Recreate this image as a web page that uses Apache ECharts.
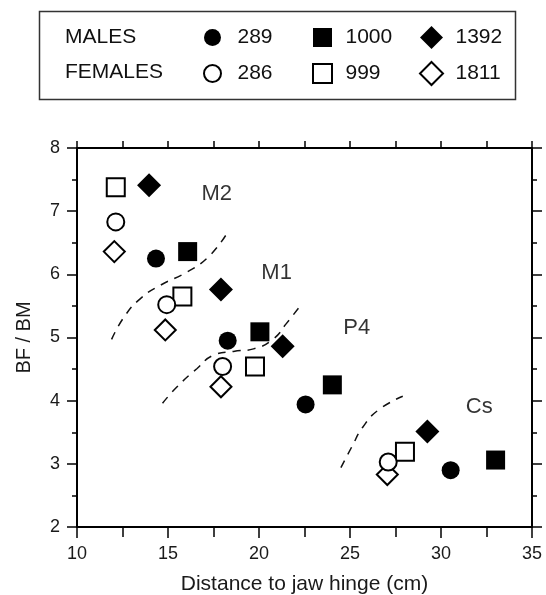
<!DOCTYPE html>
<html>
<head>
<meta charset="utf-8">
<script src="https://cdn.jsdelivr.net/npm/echarts@6/dist/echarts.min.js"></script>
<style>
  html, body { margin: 0; padding: 0; background: #fff; }
  #chart { width: 546px; height: 595px; }
</style>
</head>
<body>
<div id="chart"></div>
<script>
// 每个样本的四个牙位 (M2, M1, P4, Cs)：[距离, BF/BM]
var male289 = [[14.34, 6.25], [18.28, 4.95], [22.56, 3.94], [30.53, 2.90]];
var female286 = [[12.13, 6.83], [14.93, 5.52], [18.0, 4.54], [27.1, 3.03]];
var male1000 = [[16.08, 6.36], [20.05, 5.09], [24.03, 4.25], [33.0, 3.06]];
var female999 = [[12.13, 7.38], [15.79, 5.65], [19.78, 4.54], [28.02, 3.19]];
var male1392 = [[13.96, 7.41], [17.91, 5.76], [21.3, 4.86], [29.25, 3.51]];
var female1811 = [[12.05, 6.36], [14.85, 5.12], [17.91, 4.22], [27.05, 2.83]];

// 虚线分界
var curveM2M1 = [[11.9, 4.97], [12.6, 5.33], [13.5, 5.62], [14.6, 5.83], [16.0, 6.03], [17.2, 6.27], [18.2, 6.63]];
var curveM1P4 = [[14.7, 3.96], [15.5, 4.22], [16.6, 4.51], [17.5, 4.72], [18.6, 4.78], [19.7, 4.82], [20.8, 4.98], [21.5, 5.22], [22.4, 5.55]];
var curveP4Cs = [[24.5, 2.94], [25.1, 3.27], [25.7, 3.58], [26.55, 3.85], [27.9, 4.07]];

// 牙位标注
var toothLabels = [[17.68, 7.28, 'M2'], [20.97, 6.02, 'M1'], [25.37, 5.15, 'P4'], [32.1, 3.90, 'Cs']];

var font = "'Liberation Sans', Arial, sans-serif";
var myChart = echarts.init(document.getElementById('chart'));

function xAxisCfg(pos) {
    var bottom = pos === 'bottom';
    return {
        type: 'value', position: pos, min: 10, max: 35, interval: 5,
        axisLine: { show: true, onZero: false, lineStyle: { color: '#000', width: 2 } },
        axisTick: { show: true, inside: false, length: bottom ? 11 : 7, lineStyle: { color: '#000', width: 1.5 } },
        minorTick: { show: true, splitNumber: 2, length: bottom ? 10 : 7, lineStyle: { color: '#000', width: 1.5 } },
        splitLine: { show: false },
        axisLabel: { show: bottom, fontSize: 18, color: '#1a1a1a', margin: 18, fontFamily: font },
        name: bottom ? 'Distance to jaw hinge (cm)' : '',
        nameLocation: 'middle', nameGap: 47,
        nameTextStyle: { fontSize: 21, color: '#1a1a1a', fontFamily: font }
    };
}

function yAxisCfg(pos) {
    var left = pos === 'left';
    return {
        type: 'value', position: pos, min: 2, max: 8, interval: 1,
        axisLine: { show: true, onZero: false, lineStyle: { color: '#000', width: 2 } },
        axisTick: { show: true, inside: false, length: 10, lineStyle: { color: '#000', width: 1.5 } },
        minorTick: { show: true, splitNumber: 2, length: 5, lineStyle: { color: '#000', width: 1.5 } },
        splitLine: { show: false },
        axisLabel: { show: left, fontSize: 18, color: '#1a1a1a', margin: 17, fontFamily: font },
        name: left ? 'BF / BM' : '',
        nameLocation: 'middle', nameGap: 43,
        nameTextStyle: { fontSize: 20, color: '#1a1a1a', fontFamily: font }
    };
}

function pts(name, data, symbol, size, filled) {
    return {
        name: name, type: 'scatter', data: data, symbol: symbol, symbolSize: size,
        xAxisIndex: 0, yAxisIndex: 0, z: 5,
        itemStyle: filled
            ? { color: '#000', opacity: 1 }
            : { color: '#fff', borderColor: '#000', borderWidth: 2, opacity: 1 }
    };
}

function dashed(data) {
    return {
        type: 'line', data: data, smooth: 0.5, symbol: 'none', silent: true,
        xAxisIndex: 0, yAxisIndex: 0, z: 3,
        lineStyle: { color: '#111', width: 1.5, type: [8, 7] }
    };
}

var sqIcon = 'path://M0,0H10V10H0Z';
var diaIcon = 'path://M5,0L10,5L5,10L0,5Z';

function legendCol(left, top, w, h, gap, items) {
    return {
        orient: 'vertical', left: left, top: top, padding: 0,
        itemWidth: w, itemHeight: h, itemGap: gap,
        selectedMode: false,
        textStyle: { fontSize: 21, color: '#111', fontFamily: font, lineHeight: 20 },
        data: items
    };
}

var option = {
    animation: false,
    grid: { left: 77, right: 14, top: 148, bottom: 68, containLabel: false, outerBoundsMode: 'none' },
    xAxis: [xAxisCfg('bottom'), xAxisCfg('top')],
    yAxis: [yAxisCfg('left'), yAxisCfg('right')],
    legend: [
        legendCol(203, 27, 40, 17, 15, [{ name: '289', icon: 'circle' }, { name: '286', icon: 'circle' }]),
        legendCol(312, 27, 36, 19, 15, [{ name: '1000', icon: sqIcon }, { name: '999', icon: sqIcon }]),
        legendCol(419, 26, 38, 23, 12, [{ name: '1392', icon: diaIcon }, { name: '1811', icon: diaIcon }])
    ],
    graphic: [
        { type: 'rect', left: 37, top: 9, shape: { width: 476, height: 88 },
          style: { fill: 'none', stroke: '#333', lineWidth: 1.5 } },
        { type: 'text', left: 65, top: 27, style: { text: 'MALES', fontSize: 21, fill: '#111', fontFamily: font } },
        { type: 'text', left: 65, top: 62, style: { text: 'FEMALES', fontSize: 21, fill: '#111', fontFamily: font } }
    ],
    series: [
        dashed(curveM2M1),
        dashed(curveM1P4),
        dashed(curveP4Cs),
        pts('1000', male1000, 'rect', 19, true),
        pts('999', female999, 'rect', 18, false),
        pts('1392', male1392, 'diamond', 24, true),
        pts('1811', female1811, 'diamond', 21, false),
        pts('289', male289, 'circle', 18, true),
        pts('286', female286, 'circle', 17, false),
        {
            type: 'scatter', data: toothLabels, symbolSize: 0, silent: true,
            xAxisIndex: 0, yAxisIndex: 0,
            label: {
                show: true, position: 'inside', fontSize: 22, color: '#000', fontFamily: font,
                formatter: function (p) { return p.data[2]; }
            }
        }
    ]
};

myChart.setOption(option);
</script>
</body>
</html>
